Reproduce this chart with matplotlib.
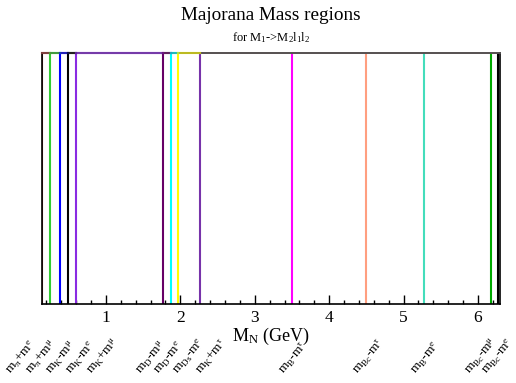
import matplotlib
matplotlib.use("Agg")
import matplotlib.pyplot as plt

# threshold values (GeV) and their labels
thresholds = [0.1401, 0.2453, 0.3880, 0.4932, 0.5994, 1.7640, 1.8691,
              1.9678, 2.2706, 3.5024, 4.4975, 5.2790, 6.1689, 6.2740]
labels = [r"m$_{\pi}$+m$^{e}$", r"m$_{\pi}$+m$^{\mu}$", r"m$_{K}$-m$^{\mu}$",
          r"m$_{K}$-m$^{e}$", r"m$_{K}$+m$^{\mu}$", r"m$_{D}$-m$^{\mu}$",
          r"m$_{D}$-m$^{e}$", r"m$_{Ds}$-m$^{e}$", r"m$_{K}$+m$^{\tau}$",
          r"m$_{B}$-m$^{\tau}$", r"m$_{Bc}$-m$^{\tau}$", r"m$_{B}$-m$^{e}$",
          r"m$_{Bc}$-m$^{\mu}$", r"m$_{Bc}$-m$^{e}$"]
colors = ["#993333", "#33cc33", "#0000ff", "#000000", "#8a2be2", "#660066",
          "#00ffff", "#ffff00", "#7733aa", "#ff00ff", "#ff9f80", "#44ddbb",
          "#00aa00", "#000000"]

# where the rotated labels start (figure pixels)
label_px = [11, 31, 51, 71, 92, 141, 159, 178, 201, 284, 358, 416, 470, 487]

plt.rcParams['font.family'] = ['Liberation Serif', 'DejaVu Serif']
plt.rcParams['mathtext.fontset'] = 'custom'
plt.rcParams['mathtext.rm'] = 'Liberation Serif'
plt.rcParams['mathtext.it'] = 'Liberation Serif:italic'
plt.rcParams['mathtext.default'] = 'regular'

W, H = 516, 383
fig = plt.figure(figsize=(W / 100, H / 100), dpi=100)
ax = fig.add_axes([41.6 / W, 1 - 304 / H, (500.3 - 41.6) / W, (304 - 53) / H])

for x, c in zip(thresholds, colors):
    ax.axvline(x, color=c, lw=1.5)

# coloured top edges like the root histos
for i in range(8):
    ax.plot([thresholds[i], thresholds[i + 1]], [1, 1], color=colors[i],
            lw=1.6, alpha=0.6, clip_on=False, zorder=5)

ax.set_xlim(0.135, 6.3)
ax.set_ylim(0, 1)
ax.set_yticks([])
ax.set_xticks([1, 2, 3, 4, 5, 6])
ax.set_xticks([0.2 * k for k in range(1, 32) if k % 5 != 0], minor=True)
ax.tick_params(axis='x', which='major', direction='in', length=6.5, width=1,
               labelsize=12.5, pad=4)
ax.tick_params(axis='x', which='minor', direction='in', length=3, width=1)
for s in ['left', 'right', 'bottom']:
    ax.spines[s].set_linewidth(1.2)
    ax.spines[s].set_color('black')
ax.spines['top'].set_color('#555050')
ax.spines['top'].set_linewidth(1.4)

ax.set_xlabel(r"M$_{N}$ (GeV)", fontsize=13, labelpad=0)

fig.text(271 / W, 1 - 15 / H, "Majorana Mass regions", ha='center',
         va='center', fontsize=13.8)
fig.text(271 / W, 1 - 38 / H, r"for M$_{1}$->M$_{2}$l$_{1}$l$_{2}$",
         ha='center', va='center', fontsize=9)

for px, lab in zip(label_px, labels):
    fig.text(px / W, 1 - 375 / H, lab, rotation=50, rotation_mode='anchor',
             ha='left', va='baseline', fontsize=9.5)

fig.savefig("out.png", dpi=100)
